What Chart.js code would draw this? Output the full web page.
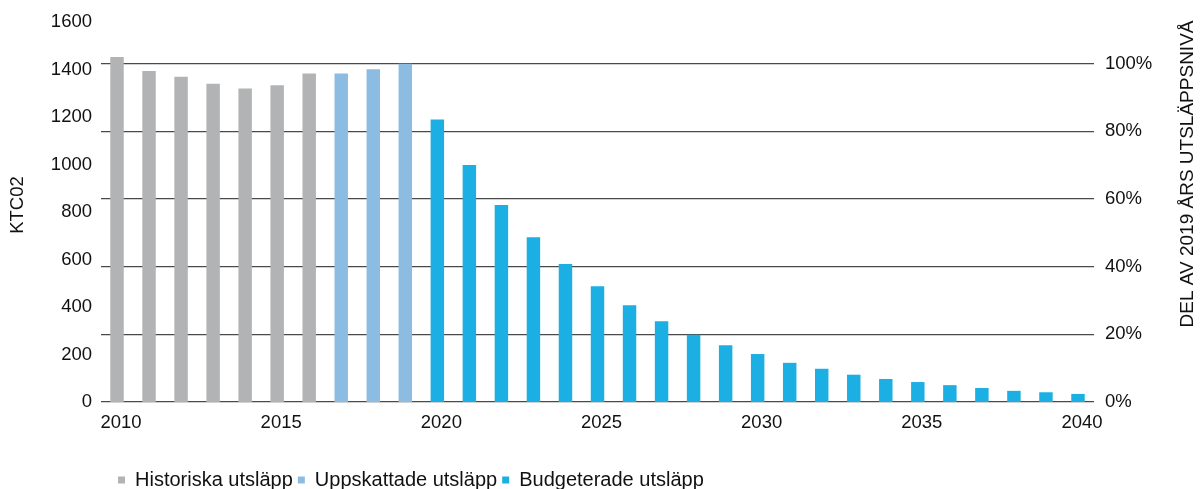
<!DOCTYPE html>
<html lang="sv">
<head>
<meta charset="utf-8">
<title>Koldioxidbudget</title>
<script src="https://cdn.jsdelivr.net/npm/chart.js@4.4.1/dist/chart.umd.min.js"></script>
<style>
  html, body { margin: 0; padding: 0; background: #fff; }
  #wrap { width: 1200px; height: 489px; position: relative; }
</style>
</head>
<body>
<div id="wrap"><canvas id="utslappChart"></canvas></div>
<script>
// Data (kt CO2 per år)
const years = [2010, 2011, 2012, 2013, 2014, 2015, 2016, 2017, 2018, 2019, 2020,
  2021, 2022, 2023, 2024, 2025, 2026, 2027, 2028, 2029, 2030,
  2031, 2032, 2033, 2034, 2035, 2036, 2037, 2038, 2039, 2040];
const historiska = [1453, 1394, 1370, 1340, 1320, 1334, 1383];        // 2010-2016
const uppskattade = [1383, 1401, 1425];                                 // 2017-2019
const budgeterade = [1190, 998, 830, 694, 581, 487, 407, 340, 283, 239, // 2020-2029
  202, 165, 140, 115, 97, 84, 71, 59, 47, 41, 34];                      // 2030-2040

const seriesNames = ['Historiska utsläpp', 'Uppskattade utsläpp', 'Budgeterade utsläpp'];
const seriesColors = ['#b1b3b4', '#8dbce2', '#1bafe4'];
const leftTicks = { min: 0, max: 1600, step: 200 };
const rightTicks = { step: 20, last: 100 };
const leftTitle = 'KTC02';
const rightTitle = 'DEL AV 2019 ÅRS UTSLÄPPSNIVÅ';

const textColor = '#111';
const fontFamily = '"Liberation Sans", Arial, sans-serif';

// place each series on its own years, null elsewhere
const startIdx = [0, historiska.length, historiska.length + uppskattade.length];
const toSeries = (vals, start) => years.map((y, i) => (i >= start && i < start + vals.length) ? vals[i - start] : null);

const base2019 = uppskattade[uppskattade.length - 1];

const titlesPlugin = {
  id: 'titlesPlugin',
  afterLayout(chart) {
    // legend sits a bit in from the left and slightly lower
    chart.legend.left += 113;
    chart.legend.top += 11;
    chart.legend.bottom += 11;
  },
  afterDraw(chart) {
    const c = chart.ctx;
    c.save();
    c.fillStyle = textColor;
    c.font = '18.5px ' + fontFamily;
    c.textAlign = 'center';
    c.textBaseline = 'middle';
    c.translate(18, 205);
    c.rotate(-Math.PI / 2);
    c.fillText(leftTitle, 0, 0);
    c.restore();

    c.save();
    c.fillStyle = textColor;
    c.font = '19px ' + fontFamily;
    c.textAlign = 'center';
    c.textBaseline = 'middle';
    c.translate(1188, 174);
    c.rotate(-Math.PI / 2);
    c.fillText(rightTitle, 0, 0);
    c.restore();
  }
};

const ctx = document.getElementById('utslappChart').getContext('2d');
const utslappChart = new Chart(ctx, {
  type: 'bar',
  data: {
    labels: years,
    datasets: [0, 1, 2].map(k => ({
      label: seriesNames[k],
      data: toSeries([historiska, uppskattade, budgeterade][k], startIdx[k]),
      backgroundColor: seriesColors[k],
      borderWidth: 0,
      grouped: false,
      barPercentage: 0.42,
      categoryPercentage: 1,
      yAxisID: 'y'
    }))
  },
  options: {
    responsive: true,
    maintainAspectRatio: false,
    animation: false,
    layout: { padding: { top: 21, left: 0, right: 0, bottom: 0 } },
    plugins: {
      legend: {
        position: 'bottom',
        align: 'start',
        labels: {
          boxWidth: 7,
          boxHeight: 7,
          padding: 5,
          color: textColor,
          font: { family: fontFamily, size: 20 }
        }
      },
      tooltip: { enabled: false }
    },
    scales: {
      x: {
        grid: { display: false, drawTicks: false },
        border: { display: false },
        ticks: {
          autoSkip: false,
          maxRotation: 0,
          padding: 10,
          labelOffset: 4,
          color: textColor,
          font: { family: fontFamily, size: 18.5 },
          callback: function (v, i) { return years[i] % 5 === 0 ? String(years[i]) : null; }
        },
        afterFit: s => { s.height = 52; }
      },
      y: {
        position: 'left',
        min: leftTicks.min,
        max: leftTicks.max,
        grid: { display: false, drawTicks: false },
        border: { display: false },
        ticks: {
          stepSize: leftTicks.step,
          padding: 9,
          color: textColor,
          font: { family: fontFamily, size: 18.5 },
          callback: v => String(v)
        },
        afterFit: s => { s.width = 101; }
      },
      pct: {
        position: 'right',
        min: 0,
        max: leftTicks.max / base2019 * 100,
        grid: { color: '#4a4a4a', lineWidth: 1.3, drawTicks: false },
        border: { display: false },
        ticks: {
          stepSize: rightTicks.step,
          padding: 11,
          color: textColor,
          font: { family: fontFamily, size: 18.5 },
          callback: v => (v <= rightTicks.last + 0.01 ? Math.round(v) + '%' : null)
        },
        afterFit: s => { s.width = 106; }
      }
    }
  },
  plugins: [titlesPlugin]
});
</script>
</body>
</html>
